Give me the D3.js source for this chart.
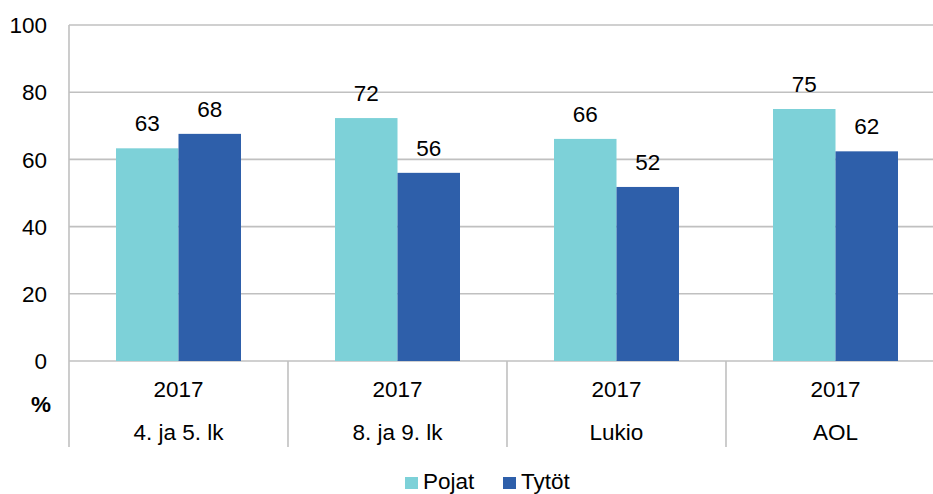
<!DOCTYPE html>
<html>
<head>
<meta charset="utf-8">
<title>Pojat ja tytöt</title>
<script src="https://cdn.jsdelivr.net/npm/d3@7"></script>
<style>
  body { margin: 0; background: #fff; }
  text { font-family: "Liberation Sans", Arial, sans-serif; fill: #000; font-size: 22.5px; }
</style>
</head>
<body>
<div id="chart"></div>
<script>
// data
var groups = ['4. ja 5. lk', '8. ja 9. lk', 'Lukio', 'AOL'];
var years = ['2017', '2017', '2017', '2017'];
var seriesNames = ['Pojat', 'Tytöt'];
var pojat = [63.3, 72.3, 66.1, 75.0];
var tytot = [67.6, 56.0, 51.8, 62.4];
var yTicks = [0, 20, 40, 60, 80, 100];
var colors = ['#7DD1D8', '#2E5FAA'];

var width = 933, height = 494;
var plotLeft = 69, plotTop = 25, plotBottom = 361, plotRight = 945;

var svg = d3.select('#chart').append('svg')
    .attr('width', width)
    .attr('height', height);

var x0 = d3.scaleBand().domain(d3.range(groups.length)).range([plotLeft, plotRight]).padding(0);
var x1 = d3.scaleBand().domain(seriesNames).range([47, 172]);
var y = d3.scaleLinear().domain([0, 100]).range([plotBottom, plotTop]);
var color = d3.scaleOrdinal().domain(seriesNames).range(colors);
var fmt = d3.format('.0f');

// gridlines
svg.append('g').selectAll('line')
    .data(yTicks)
    .enter().append('line')
    .attr('x1', plotLeft).attr('x2', plotRight)
    .attr('y1', d => y(d)).attr('y2', d => y(d))
    .attr('stroke', '#C0C0C0')
    .attr('stroke-width', 1.6);

// y tick labels
svg.append('g').selectAll('text')
    .data(yTicks)
    .enter().append('text')
    .attr('x', 47)
    .attr('y', d => y(d))
    .attr('dy', '0.36em')
    .attr('text-anchor', 'end')
    .text(d => d);

// left axis and category separators
svg.append('line')
    .attr('x1', plotLeft).attr('x2', plotLeft)
    .attr('y1', plotTop).attr('y2', 447)
    .attr('stroke', '#C0C0C0').attr('stroke-width', 1.6);

svg.append('g').selectAll('line')
    .data(d3.range(1, groups.length + 1))
    .enter().append('line')
    .attr('x1', d => x0(0) + d * x0.bandwidth())
    .attr('x2', d => x0(0) + d * x0.bandwidth())
    .attr('y1', plotBottom).attr('y2', 447)
    .attr('stroke', '#C0C0C0').attr('stroke-width', 1.6);

// bars
var rows = groups.map((g, i) => ({ i: i, vals: [pojat[i], tytot[i]] }));

var grp = svg.append('g').selectAll('g')
    .data(rows)
    .enter().append('g')
    .attr('transform', d => 'translate(' + x0(d.i) + ',0)');

grp.selectAll('rect')
    .data(d => d.vals.map((v, k) => ({ name: seriesNames[k], v: v })))
    .enter().append('rect')
    .attr('x', d => x1(d.name))
    .attr('width', x1.bandwidth())
    .attr('y', d => y(d.v))
    .attr('height', d => y(0) - y(d.v))
    .attr('fill', d => color(d.name));

grp.selectAll('text')
    .data(d => d.vals.map((v, k) => ({ name: seriesNames[k], v: v })))
    .enter().append('text')
    .attr('x', d => x1(d.name) + x1.bandwidth() / 2)
    .attr('y', d => y(d.v) - 17)
    .attr('text-anchor', 'middle')
    .text(d => fmt(d.v));

// category labels
var cx = i => x0(i) + x0.bandwidth() / 2;
svg.append('g').selectAll('text')
    .data(years)
    .enter().append('text')
    .attr('x', (d, i) => cx(i))
    .attr('y', 397)
    .attr('text-anchor', 'middle')
    .text(d => d);

svg.append('g').selectAll('text')
    .data(groups)
    .enter().append('text')
    .attr('x', (d, i) => cx(i))
    .attr('y', 440)
    .attr('text-anchor', 'middle')
    .text(d => d);

svg.append('text')
    .attr('x', 41).attr('y', 412)
    .attr('text-anchor', 'middle')
    .style('font-weight', 'bold')
    .text('%');

// legend
var legendX = [405, 503];
var leg = svg.append('g').selectAll('g')
    .data(seriesNames)
    .enter().append('g')
    .attr('transform', (d, i) => 'translate(' + legendX[i] + ',477)');

leg.append('rect')
    .attr('width', 13).attr('height', 12)
    .attr('fill', d => color(d));

leg.append('text')
    .attr('x', 18).attr('y', 12)
    .text(d => d);
</script>
</body>
</html>
